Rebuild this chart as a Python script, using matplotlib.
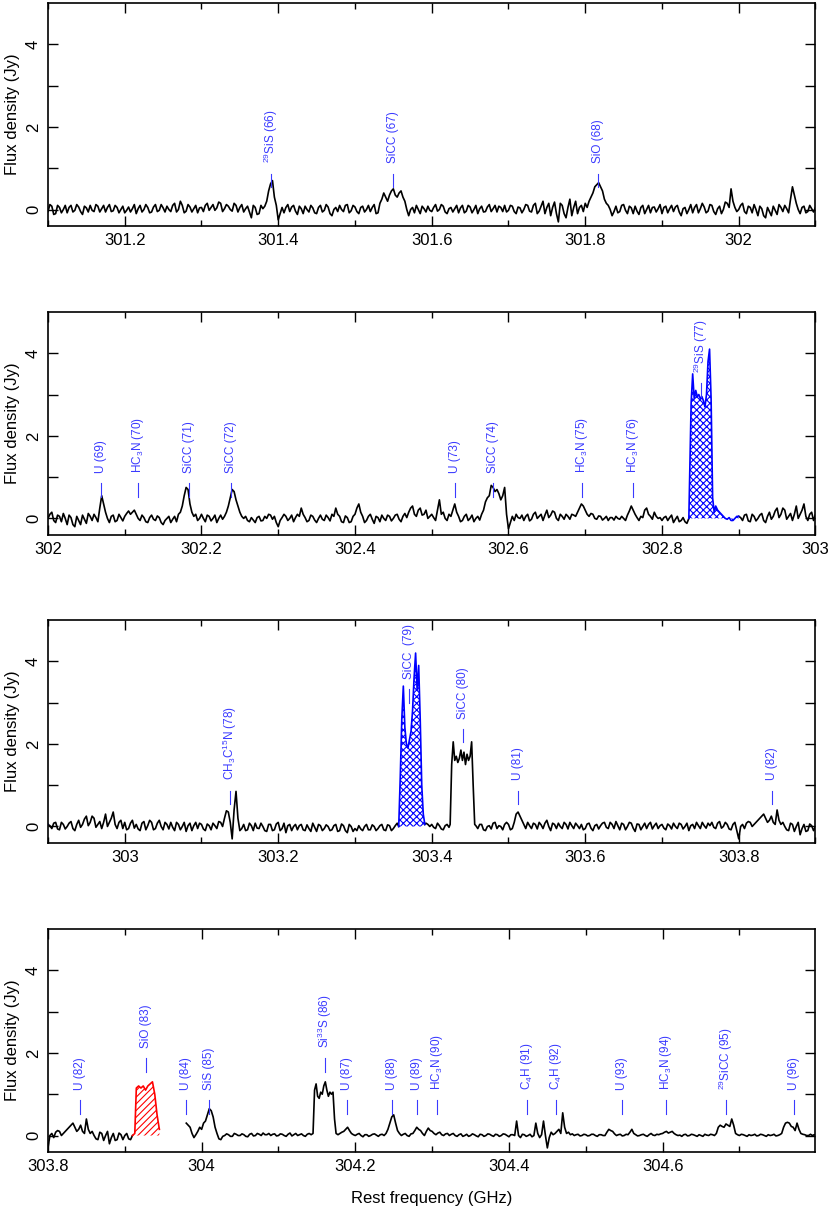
import numpy as np
import matplotlib
matplotlib.use("Agg")
import matplotlib.pyplot as plt
from matplotlib.ticker import MultipleLocator, FuncFormatter

plt.rcParams['font.family'] = ['Liberation Sans', 'DejaVu Sans']
plt.rcParams['mathtext.fontset'] = 'custom'
plt.rcParams['mathtext.rm'] = 'Liberation Sans'
plt.rcParams['mathtext.default'] = 'regular'
plt.rcParams['hatch.linewidth'] = 0.8

nan = np.nan

# spectrum channels: start 301.1 GHz, 0.005 GHz per channel (one row = 0.1 GHz)
# flux_mid holds the in-between channels (offset by half a channel)
chan0 = 301.1
dchan = 0.005

flux_301 = [
    -0.05, 0.08, -0.10, 0.05, 0.00, -0.08, 0.10, -0.02, 0.06, -0.12, 0.04, 0.10, -0.05, 0.08, 0.02, -0.06, 0.12, -0.03, 0.05, 0.00,
    -0.08, 0.06, 0.02, -0.10, 0.10, 0.00, 0.05, -0.06, 0.12, -0.02, 0.04, 0.08, -0.05, 0.15, 0.00, 0.10, -0.04, 0.06, 0.02, -0.08,
    0.05, 0.10, -0.02, 0.12, 0.04, 0.15, 0.02, 0.08, -0.04, 0.10, 0.05, -0.06, 0.08, -0.20, 0.05, -0.10, 0.02, 0.20, 0.62, 0.30,
    -0.25, 0.05, 0.05, -0.05, 0.10, -0.12, 0.02, 0.08, -0.06, 0.04, -0.10, 0.10, -0.02, 0.06, -0.15, 0.05, 0.10, -0.05, 0.12, -0.03,
    0.06, -0.10, 0.08, 0.00, -0.05, 0.12, -0.08, 0.25, 0.30, 0.35, 0.50, 0.30, 0.45, 0.20, -0.15, 0.05, 0.10, -0.10, 0.02, 0.08,
    -0.05, 0.12, 0.00, 0.08, -0.10, 0.05, 0.02, -0.08, 0.10, -0.04, 0.06, 0.00, -0.10, 0.08, -0.05, 0.12, 0.02, -0.06, 0.05, 0.10,
    -0.02, 0.08, -0.10, 0.04, 0.00, 0.10, -0.06, 0.15, -0.04, 0.20, 0.05, -0.15, 0.18, -0.30, 0.10, -0.20, 0.25, 0.05, -0.10, 0.10,
    0.15, 0.20, 0.40, 0.60, 0.55, 0.25, 0.10, -0.15, 0.08, -0.05, 0.12, -0.10, 0.04, 0.08, -0.12, 0.10, 0.00, -0.08, 0.06, 0.02,
    -0.10, 0.08, 0.02, -0.05, 0.10, -0.15, 0.05, 0.00, -0.08, 0.12, 0.02, 0.06, -0.04, 0.10, -0.12, 0.08, 0.00, 0.15, 0.50, 0.05,
]
flux_302 = [
    0.00, 0.15, -0.10, 0.05, 0.12, -0.15, 0.02, -0.20, -0.05, 0.08, -0.12, 0.05, 0.10, -0.08, 0.55, 0.15, -0.10, 0.08, -0.05, 0.02,
    0.05, 0.18, 0.15, 0.10, -0.05, 0.02, -0.10, 0.08, -0.05, 0.02, -0.15, 0.00, -0.10, 0.05, 0.10, 0.30, 0.75, 0.35, 0.05, -0.05,
    0.10, -0.08, 0.05, 0.00, -0.10, 0.08, 0.05, 0.30, 0.70, 0.45, 0.15, 0.00, -0.05, 0.02, -0.10, 0.05, -0.05, 0.00, 0.08, 0.05,
    -0.20, 0.02, 0.05, 0.00, -0.08, 0.10, 0.25, 0.02, -0.05, 0.05, -0.10, 0.08, -0.05, 0.02, 0.10, 0.25, 0.05, -0.10, 0.02, -0.08,
    0.10, 0.35, 0.05, -0.05, 0.10, -0.12, 0.02, 0.08, -0.05, 0.05, 0.00, 0.10, -0.08, 0.12, 0.15, 0.30, 0.05, 0.25, 0.10, 0.00,
    0.10, -0.05, 0.45, 0.15, -0.05, 0.05, 0.35, 0.05, -0.05, 0.10, 0.00, -0.08, 0.05, 0.10, 0.40, 0.55, 0.75, 0.70, 0.45, 0.75,
    -0.25, 0.05, 0.10, 0.00, -0.05, 0.10, -0.02, 0.15, 0.05, -0.05, 0.20, 0.08, 0.15, -0.05, 0.05, 0.10, -0.02, 0.08, 0.15, 0.35,
    0.20, 0.05, 0.10, -0.02, 0.05, 0.00, -0.05, 0.02, 0.05, -0.02, 0.00, 0.08, 0.30, 0.10, -0.05, 0.02, 0.25, 0.05, 0.15, 0.00,
    -0.05, 0.05, 0.02, -0.10, 0.05, -0.05, -0.08, 0.00, 0.00, 0.00, 0.00, 0.00, 0.00, 0.00, 0.30, 0.15, 0.05, -0.02, -0.05, 0.00,
    0.05, -0.05, 0.10, -0.08, 0.05, 0.00, 0.12, -0.10, 0.15, 0.05, 0.25, 0.10, 0.20, 0.05, -0.05, 0.30, 0.10, 0.35, -0.05, 0.15,
]
flux_303 = [
    0.10, -0.05, 0.15, 0.05, -0.10, 0.12, 0.02, 0.10, -0.05, 0.15, -0.08, 0.05, 0.10, -0.10, 0.05, 0.00, -0.12, 0.08, 0.02, -0.05,
    0.05, -0.10, 0.02, 0.08, -0.05, 0.10, 0.20, 0.35, -0.30, 0.85, -0.10, 0.05, -0.08, 0.02, 0.08, -0.05, 0.00, -0.12, 0.05, -0.08,
    0.10, -0.05, -0.15, 0.05, 0.00, -0.08, 0.05, -0.10, -0.05, 0.08, -0.12, 0.02, -0.05, 0.00, -0.08, 0.05, -0.10, 0.02, -0.15, 0.00,
    -0.05, 0.02, -0.10, 0.05, -0.08, 0.00, -0.05, 0.05, -0.10, 0.02, -0.05, 0.08, -0.02, 0.05, -0.08, 0.00, -0.05, 0.02, 0.00, 0.05,
    0.05, -0.05, 0.02, -0.08, 0.05, 0.00, 0.00, 0.00, 0.00, 0.00, 0.00, 0.00, -0.05, 0.05, -0.10, 0.02, 0.08, -0.05, 0.00, 0.05,
    0.05, -0.05, 0.30, 0.25, 0.05, 0.10, -0.05, 0.05, 0.10, -0.05, 0.15, -0.10, 0.05, 0.08, -0.05, 0.05, 0.10, -0.05, 0.02, 0.05,
    -0.05, 0.08, -0.10, 0.05, 0.02, 0.10, -0.05, 0.05, 0.12, -0.08, 0.05, 0.00, 0.08, -0.12, 0.05, 0.00, -0.05, 0.10, 0.02, -0.05,
    0.05, -0.08, 0.02, 0.08, -0.05, 0.05, 0.00, -0.10, 0.05, 0.10, -0.05, 0.02, 0.08, 0.10, -0.05, 0.12, 0.00, 0.05, -0.08, 0.10,
    -0.30, 0.05, 0.08, 0.10, 0.05, 0.15, 0.25, 0.20, 0.15, 0.10, 0.40, 0.05, 0.00, -0.10, 0.05, 0.00, -0.20, 0.05, -0.10, 0.02,
    0.00, -0.08, 0.00, nan, nan, nan, nan, nan, nan, nan, nan, nan, nan, nan, nan, nan, 0.30, 0.20, -0.05, 0.10,
]
flux_304 = [
    0.15, 0.35, 0.65, 0.45, 0.05, -0.10, 0.00, 0.02, -0.02, 0.03, 0.00, 0.02, -0.03, 0.05, 0.00, 0.03, 0.06, 0.02, 0.00, 0.04,
    0.00, 0.03, -0.02, 0.06, 0.02, 0.00, 0.04, -0.02, 0.05, 0.00, 0.00, 0.00, 0.00, 0.00, 0.00, 0.00, 0.05, 0.10, 0.20, 0.05,
    0.00, 0.05, -0.03, 0.02, 0.00, 0.04, -0.02, 0.03, 0.05, 0.30, 0.50, 0.12, 0.00, 0.05, -0.02, 0.05, 0.20, 0.12, 0.00, 0.18,
    0.10, 0.02, 0.08, 0.00, 0.05, 0.03, 0.00, 0.02, -0.02, 0.03, 0.00, 0.02, -0.03, 0.02, 0.00, 0.03, -0.02, 0.02, 0.00, 0.03,
    -0.03, 0.02, 0.35, -0.05, 0.02, 0.00, -0.03, 0.30, -0.05, 0.35, -0.30, 0.08, 0.05, 0.15, 0.55, 0.05, 0.02, 0.00, 0.03, 0.00,
    0.02, 0.00, 0.03, -0.02, 0.02, 0.00, 0.15, 0.10, 0.00, 0.03, 0.00, 0.02, 0.15, 0.02, 0.00, 0.03, -0.02, 0.05, 0.00, 0.02,
    0.05, 0.10, 0.08, 0.05, 0.00, -0.02, 0.03, 0.00, 0.02, -0.02, 0.00, 0.03, 0.00, 0.02, 0.05, 0.25, 0.20, 0.25, 0.40, 0.05,
    0.00, 0.02, -0.02, 0.00, 0.03, 0.00, 0.02, -0.02, 0.00, 0.03, 0.00, 0.05, 0.30, 0.30, 0.20, 0.30, 0.05, 0.02, 0.00, 0.00,
    0.00,
]
flux_mid = [
    0.12, -0.12, 0.10, -0.08, 0.10, 0.05, -0.06, 0.12, -0.05, 0.08, -0.06, -0.02, 0.12, -0.06, 0.10, 0.05, -0.05, 0.10, -0.08, 0.08,
    -0.02, -0.06, 0.12, 0.02, -0.06, 0.12, -0.08, 0.06, -0.05, 0.12, -0.06, 0.00, 0.10, -0.06, 0.20, -0.08, 0.12, -0.06, 0.10, 0.04,
    -0.05, 0.15, 0.05, -0.02, 0.18, -0.05, 0.12, 0.00, 0.15, -0.06, 0.12, 0.02, -0.06, 0.10, -0.12, 0.10, 0.08, 0.45, 0.70, 0.10,
    -0.10, -0.08, 0.12, 0.06, -0.04, 0.08, -0.10, 0.00, 0.10, -0.08, 0.05, -0.06, 0.12, -0.10, 0.00, -0.05, 0.00, 0.10, -0.08, 0.10,
    -0.05, 0.05, -0.06, 0.10, 0.05, -0.10, 0.15, 0.40, 0.20, 0.45, 0.35, 0.40, 0.30, 0.00, 0.00, -0.08, 0.00, 0.08, -0.06, -0.02,
    0.05, -0.04, 0.12, -0.06, 0.02, -0.06, 0.10, 0.04, -0.08, 0.10, -0.08, 0.10, 0.02, -0.06, 0.06, -0.05, 0.10, 0.08, -0.05, -0.06,
    0.10, -0.05, 0.06, -0.08, 0.12, -0.04, 0.10, -0.10, 0.08, -0.10, 0.15, 0.05, -0.10, 0.15, -0.10, 0.05, -0.15, 0.20, 0.05, -0.05,
    0.05, 0.30, 0.55, 0.65, 0.45, 0.15, 0.00, -0.05, -0.08, 0.10, -0.02, 0.08, -0.10, -0.04, 0.05, -0.10, 0.10, 0.05, -0.06, 0.12,
    0.05, -0.08, 0.10, 0.06, -0.06, 0.02, -0.10, 0.12, 0.05, -0.08, 0.15, -0.08, 0.12, -0.05, 0.02, -0.10, 0.18, 0.05, 0.20, -0.05,
    0.10, -0.05, 0.08, -0.08, 0.00, 0.08, -0.15, 0.05, -0.15, -0.02, 0.12, -0.05, 0.02, 0.25, 0.35, 0.00, 0.05, -0.08, 0.10, -0.06,
    0.12, 0.10, 0.20, 0.00, 0.08, -0.08, 0.02, -0.02, 0.06, -0.10, -0.05, 0.05, -0.02, -0.08, 0.15, 0.55, 0.70, 0.15, 0.10, 0.00,
    0.00, 0.08, -0.06, 0.08, 0.00, -0.02, 0.15, 0.50, 0.65, 0.30, 0.05, 0.05, -0.08, -0.04, 0.02, -0.06, 0.05, 0.10, -0.02, -0.10,
    -0.05, 0.10, -0.05, 0.08, 0.02, 0.05, 0.10, -0.08, 0.08, -0.04, 0.00, -0.02, 0.08, -0.06, 0.05, 0.10, -0.08, 0.06, -0.10, 0.05,
    0.25, 0.15, -0.10, 0.05, -0.02, 0.05, -0.08, 0.00, 0.08, -0.06, 0.08, -0.02, 0.05, 0.02, 0.25, 0.10, 0.20, 0.08, 0.20, 0.05,
    0.02, 0.20, 0.10, 0.00, 0.10, 0.20, 0.15, -0.08, 0.05, -0.05, 0.08, 0.00, -0.04, 0.20, 0.50, 0.80, 0.65, 0.60, 0.55, 0.10,
    -0.10, -0.05, 0.02, 0.08, 0.05, -0.06, 0.10, 0.00, 0.10, 0.08, 0.02, 0.18, 0.00, 0.10, -0.02, 0.05, 0.10, 0.05, 0.25, 0.30,
    0.10, 0.12, 0.00, 0.06, -0.04, 0.05, 0.02, -0.04, 0.00, 0.05, -0.05, 0.18, 0.20, 0.02, 0.05, 0.20, 0.10, -0.02, 0.05, 0.02,
    0.02, -0.05, 0.08, -0.02, -0.08, 0.02, -0.12, 0.00, 0.00, 0.00, 0.00, 0.00, 0.00, 0.00, 0.20, 0.10, 0.00, 0.02, -0.05, 0.05,
    0.02, 0.08, -0.06, 0.10, -0.06, 0.08, -0.05, 0.05, -0.02, 0.18, 0.02, 0.25, -0.02, 0.12, 0.10, 0.00, 0.20, 0.05, 0.10, -0.05,
    -0.08, 0.08, -0.04, -0.06, 0.08, -0.08, 0.15, -0.08, 0.08, 0.00, 0.10, -0.06, -0.02, 0.10, -0.08, 0.10, 0.02, -0.10, 0.10, 0.08,
    -0.06, 0.06, -0.08, 0.02, 0.12, 0.00, 0.38, 0.10, 0.40, 0.20, -0.05, -0.10, 0.08, -0.10, -0.04, 0.08, -0.10, 0.05, -0.10, 0.06,
    -0.10, 0.08, 0.02, -0.10, 0.05, 0.02, -0.08, 0.04, -0.12, -0.02, 0.05, -0.10, 0.04, -0.10, 0.02, -0.12, 0.06, -0.10, 0.05, -0.12,
    -0.10, -0.06, 0.00, -0.08, 0.04, -0.10, 0.02, -0.08, 0.04, -0.10, 0.02, -0.08, 0.06, -0.10, 0.02, -0.08, 0.06, -0.06, 0.08, 0.00,
    -0.02, 0.08, -0.06, 0.02, -0.02, 0.00, 0.00, 0.00, 0.00, 0.00, 0.00, 0.02, 0.05, -0.08, 0.00, -0.06, 0.10, 0.02, -0.08, 0.10,
    -0.08, 0.10, 0.35, 0.15, -0.05, 0.02, 0.08, -0.06, 0.04, 0.08, 0.00, 0.08, -0.05, 0.00, 0.10, -0.06, 0.02, 0.08, -0.05, -0.08,
    0.06, -0.04, 0.02, -0.06, 0.08, -0.02, 0.10, -0.05, 0.02, 0.08, -0.08, 0.10, -0.04, 0.06, -0.08, 0.08, 0.05, -0.06, 0.08, 0.02,
    -0.04, 0.06, -0.06, 0.00, 0.08, -0.06, 0.08, 0.02, -0.05, 0.02, 0.10, -0.04, 0.02, -0.02, 0.08, -0.04, 0.10, -0.06, 0.05, -0.10,
    0.00, -0.05, 0.12, 0.00, 0.10, 0.20, 0.30, 0.10, 0.25, 0.05, 0.15, 0.10, -0.08, 0.08, -0.12, 0.10, -0.05, -0.12, 0.06, -0.10,
    0.05, -0.10, nan, nan, nan, nan, nan, nan, nan, nan, nan, nan, nan, nan, nan, nan, 0.25, 0.05, 0.02, 0.20,
    0.30, 0.50, 0.60, 0.20, -0.08, -0.02, 0.04, -0.02, 0.05, 0.00, 0.04, -0.02, 0.03, -0.01, 0.05, 0.00, 0.02, 0.05, 0.03, -0.01,
    0.04, 0.00, 0.03, -0.01, 0.05, 0.02, 0.00, 0.03, 0.02, 0.00, 0.00, 0.00, 0.00, 0.00, 0.00, 0.02, 0.08, 0.15, 0.12, 0.02,
    0.03, 0.00, 0.02, -0.02, 0.03, 0.01, 0.02, 0.00, 0.15, 0.45, 0.30, 0.05, 0.03, 0.00, 0.04, 0.12, 0.15, 0.05, 0.10, 0.12,
    0.05, 0.06, 0.02, 0.04, 0.00, 0.05, -0.02, 0.04, 0.00, -0.02, 0.04, -0.01, 0.03, -0.02, 0.04, 0.00, 0.03, -0.02, 0.04, 0.00,
    0.02, 0.00, 0.00, 0.03, -0.02, 0.03, 0.00, 0.05, 0.02, 0.00, -0.05, 0.02, 0.10, 0.05, 0.20, 0.08, 0.04, 0.02, -0.01, 0.03,
    -0.01, 0.03, 0.00, 0.02, 0.00, 0.08, 0.12, 0.04, 0.02, -0.01, 0.03, 0.08, 0.05, -0.01, 0.02, 0.00, 0.02, 0.01, 0.03, 0.04,
    0.08, 0.06, 0.10, 0.02, 0.01, 0.02, -0.01, 0.03, 0.00, 0.02, -0.02, 0.01, 0.03, 0.00, 0.20, 0.22, 0.28, 0.22, 0.25, 0.02,
    0.03, 0.00, 0.02, 0.01, -0.01, 0.03, 0.00, 0.02, 0.01, -0.01, 0.02, 0.20, 0.32, 0.22, 0.12, 0.15, 0.03, 0.00, 0.03, 0.02,
]

# strong lines, sampled finer
sis77_freq = [302.835, 302.838, 302.840, 302.842, 302.844, 302.846, 302.848, 302.850, 302.852,
              302.854, 302.856, 302.858, 302.860, 302.862, 302.864, 302.866, 302.868]
sis77_flux = [0.0, 2.8, 3.5, 2.9, 3.1, 2.95, 3.0, 2.9, 2.95, 2.85, 2.7, 3.0, 3.8, 4.1, 2.9, 0.5, 0.15]

sicc79_freq = [303.357, 303.359, 303.361, 303.363, 303.365, 303.367, 303.369, 303.371, 303.373,
               303.375, 303.377, 303.379, 303.381, 303.383, 303.385, 303.387, 303.389, 303.391]
sicc79_flux = [0.0, 1.2, 2.6, 3.4, 2.4, 2.0, 1.9, 2.1, 2.3, 2.8, 3.6, 4.2, 3.3, 3.9, 2.6, 1.0, 0.3, 0.05]

sicc80_freq = [303.424, 303.426, 303.428, 303.430, 303.432, 303.434, 303.436, 303.438, 303.440,
               303.442, 303.444, 303.446, 303.448, 303.450, 303.452, 303.454, 303.456]
sicc80_flux = [0.05, 1.5, 2.05, 1.6, 1.7, 1.55, 1.65, 1.85, 1.6, 1.8, 1.5, 1.75, 1.6, 1.7, 2.05, 1.0, 0.05]

sio83_freq = [303.910, 303.913, 303.915, 303.918, 303.921, 303.924, 303.927, 303.930, 303.933,
              303.936, 303.939, 303.942, 303.945]
sio83_flux = [0.0, 0.05, 1.15, 1.2, 1.15, 1.2, 1.1, 1.2, 1.25, 1.3, 1.0, 0.5, 0.15]

si33s86_freq = [304.145, 304.147, 304.149, 304.151, 304.153, 304.155, 304.157, 304.159, 304.161,
                304.163, 304.165, 304.167, 304.169, 304.171, 304.173, 304.175]
si33s86_flux = [0.05, 1.1, 1.25, 0.95, 0.9, 1.05, 1.0, 1.2, 1.3, 1.1, 0.95, 1.05, 1.0, 1.05, 0.4, 0.05]

blue_ranges = [(302.835, 302.900), (303.357, 303.391)]
red_ranges = [(303.910, 303.945)]

# line identifications per panel: frequency, name, height of the marker
p1_freq = [301.391, 301.550, 301.817]
p1_name = [r'$^{29}$SiS (66)', 'SiCC (67)', 'SiO (68)']
p1_mark = [0.55, 0.55, 0.55]

p2_freq = [302.069, 302.117, 302.184, 302.238, 302.530, 302.580, 302.696, 302.762, 302.851]
p2_name = ['U (69)', r'HC$_3$N (70)', 'SiCC (71)', 'SiCC (72)', 'U (73)', 'SiCC (74)',
           r'HC$_3$N (75)', r'HC$_3$N (76)', r'$^{29}$SiS (77)']
p2_mark = [0.53, 0.53, 0.53, 0.53, 0.53, 0.53, 0.53, 0.53, 2.95]

p3_freq = [303.137, 303.370, 303.441, 303.512, 303.843]
p3_name = [r'CH$_3$C$^{15}$N (78)', 'SiCC  (79)', 'SiCC (80)', 'U (81)', 'U (82)']
p3_mark = [0.55, 3.0, 2.04, 0.55, 0.55]

p4_freq = [303.842, 303.928, 303.980, 304.009, 304.160, 304.189, 304.248, 304.280, 304.307,
           304.424, 304.461, 304.547, 304.604, 304.683, 304.771]
p4_name = ['U (82)', 'SiO (83)', 'U (84)', 'SiS (85)', r'Si$^{33}$S (86)', 'U (87)', 'U (88)',
           'U (89)', r'HC$_3$N (90)', r'C$_4$H (91)', r'C$_4$H (92)', 'U (93)', r'HC$_3$N (94)',
           r'$^{29}$SiCC (95)', 'U (96)']
p4_mark = [0.53, 1.55, 0.53, 0.53, 1.55, 0.53, 0.53, 0.53, 0.53, 0.53, 0.53, 0.53, 0.53, 0.53, 0.53]

panel_ranges = [(301.1, 302.1), (302.0, 303.0), (302.9, 303.9), (303.8, 304.799)]

# assemble the spectrum
main = np.array(flux_301 + flux_302 + flux_303 + flux_304, dtype=float)
mid = np.array(flux_mid, dtype=float)
freq = np.concatenate([np.round(chan0 + dchan * np.arange(len(main)), 5),
                       np.round(chan0 + dchan / 2 + dchan * np.arange(len(mid)), 5)])
flux = np.concatenate([main, mid])
for pf, pv in [(sis77_freq, sis77_flux), (sicc79_freq, sicc79_flux), (sicc80_freq, sicc80_flux),
               (sio83_freq, sio83_flux), (si33s86_freq, si33s86_flux)]:
    keep = (freq < pf[0]) | (freq > pf[-1])
    freq = np.concatenate([freq[keep], pf])
    flux = np.concatenate([flux[keep], pv])
order = np.argsort(freq)
freq, flux = freq[order], flux[order]

BLUE = '#0000ff'
LABEL_BLUE = '#3a3aff'
RED = '#ff0000'

fig = plt.figure(figsize=(8.3, 12.1), dpi=100)
bottoms = [0.8132, 0.5579, 0.3033, 0.0479]
lines = [(p1_freq, p1_name, p1_mark), (p2_freq, p2_name, p2_mark),
         (p3_freq, p3_name, p3_mark), (p4_freq, p4_name, p4_mark)]

for k in range(4):
    ax = fig.add_axes([0.0578, bottoms[k], 0.9247, 0.1843])
    lo, hi = panel_ranges[k]

    black = flux.copy()
    for a, b in blue_ranges + red_ranges:
        black[(freq > a) & (freq < b)] = nan
    ax.plot(freq, black, color='black', lw=1.2)

    for rngs, col, hatch in [(blue_ranges, BLUE, 'xxxxx'), (red_ranges, RED, '/////')]:
        for a, b in rngs:
            m = (freq >= a) & (freq <= b)
            ax.fill_between(freq[m], 0, flux[m], facecolor='none', edgecolor=col,
                            hatch=hatch, linewidth=0)
            ax.plot(freq[m], flux[m], color=col, lw=1.2)

    fr, nm, mk = lines[k]
    for f, name, y0 in zip(fr, nm, mk):
        ax.plot([f, f], [y0, y0 + 0.32], color=LABEL_BLUE, lw=0.8)
        ax.text(f, y0 + 0.57, name, rotation=90, ha='center', va='bottom',
                fontsize=8.5, color=LABEL_BLUE)

    ax.set_xlim(lo, hi)
    ax.set_ylim(-0.4, 5)
    ax.xaxis.set_major_locator(MultipleLocator(0.2))
    ax.xaxis.set_minor_locator(MultipleLocator(0.1))
    ax.xaxis.set_major_formatter(FuncFormatter(lambda v, p: f'{v:g}'))
    ax.set_yticks([0, 1, 2, 3, 4])
    ax.set_yticklabels(['0', '', '2', '', '4'])
    ax.tick_params(which='both', direction='in', top=True, right=True, width=1.0)
    ax.tick_params(which='major', length=7, labelsize=12)
    ax.tick_params(which='minor', length=4)
    ax.tick_params(axis='y', pad=5, labelrotation=90)
    ax.tick_params(axis='x', pad=5)
    for lbl in ax.get_yticklabels():
        lbl.set_rotation(90)
        lbl.set_verticalalignment('center')
    for sp in ax.spines.values():
        sp.set_linewidth(1.2)
    ax.set_ylabel('Flux density (Jy)', fontsize=12, labelpad=4)
    if k == 3:
        ax.set_xlabel('Rest frequency (GHz)', fontsize=12, labelpad=12)

fig.savefig('out.png', dpi=100)
